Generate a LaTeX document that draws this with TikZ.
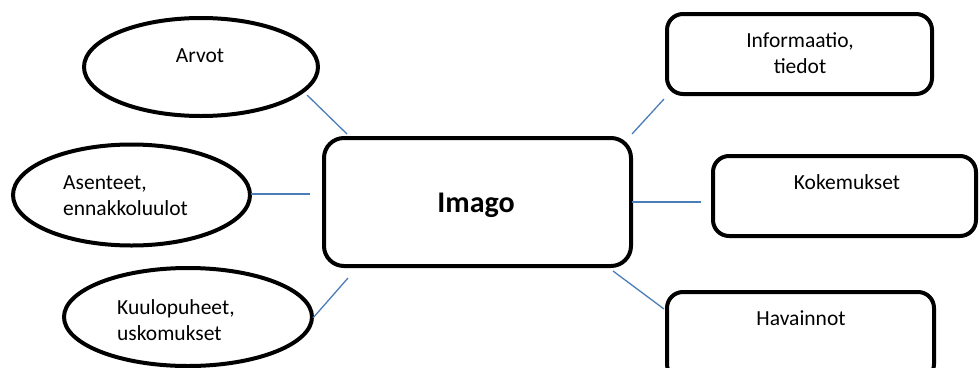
\documentclass[tikz,border=0pt]{standalone}
\usepackage{fontspec}
\setmainfont{Carlito}
\usetikzlibrary{shapes.geometric}
\definecolor{linkblue}{HTML}{4A7EBB}
\tikzset{
  oval/.style={draw=black, line width=4pt, ellipse, inner sep=0pt},
  rbox/.style={draw=black, line width=4pt, rounded corners=16pt},
  link/.style={draw=linkblue, line width=1.3pt},
  txt/.style={font=\fontsize{21.5}{26}\selectfont, inner sep=0pt},
}
\begin{document}
\begin{tikzpicture}[x=1pt,y=-1pt]
\clip (0,0) rectangle (979,367);
\fill[white] (0,0) rectangle (979,367);
% ellipses
\node[oval, minimum width=234pt, minimum height=98pt] (arvot) at (201,67) {};
\node[oval, minimum width=237pt, minimum height=101pt] (asenteet) at (131.5,195) {};
\node[oval, minimum width=248pt, minimum height=98pt] (kuulo) at (188,317) {};
% boxes
\draw[rbox, rounded corners=20pt] (324,138) rectangle (631,266);
\node[inner sep=0pt] (imago) at (477.5,202) {};
\draw[rbox] (667,14) rectangle (932,94);
\node[inner sep=0pt] (info) at (799.5,54) {};
\draw[rbox] (713,156) rectangle (976,236);
\node[inner sep=0pt] (koke) at (844.5,196) {};
\draw[rbox] (667,292) rectangle (934,380);
\node[inner sep=0pt] (hava) at (800.5,336) {};
% texts
\node[txt, anchor=base] (tarvot) at (200,62) {Arvot};
\node[txt, anchor=base west, align=left] (tasenteet) at (63,215) {Asenteet,\\ennakkoluulot};
\node[txt, anchor=base west, align=left] (tkuulo) at (117,340) {Kuulopuheet,\\uskomukset};
\node[inner sep=0pt, anchor=base, font=\fontsize{30}{36}\selectfont\bfseries] (timago) at (476,212) {Imago};
\node[txt, anchor=base, align=center] (tinfo) at (800,73) {Informaatio,\\tiedot};
\node[txt, anchor=base] (tkoke) at (847,189) {Kokemukset};
\node[txt, anchor=base] (thava) at (801,325) {Havainnot};
% connector end points
\coordinate (a1) at (307,95);   \coordinate (a2) at (347,134);
\coordinate (b1) at (251,194);  \coordinate (b2) at (310,194);
\coordinate (c1) at (313,318);  \coordinate (c2) at (348,278);
\coordinate (d1) at (632,134);  \coordinate (d2) at (664,99);
\coordinate (e1) at (632,202);  \coordinate (e2) at (701,202);
\coordinate (f1) at (613,271);  \coordinate (f2) at (664,309);
\draw[link] (a1) -- (a2);
\draw[link] (b1) -- (b2);
\draw[link] (c1) -- (c2);
\draw[link] (d1) -- (d2);
\draw[link] (e1) -- (e2);
\draw[link] (f1) -- (f2);
\end{tikzpicture}
\end{document}
